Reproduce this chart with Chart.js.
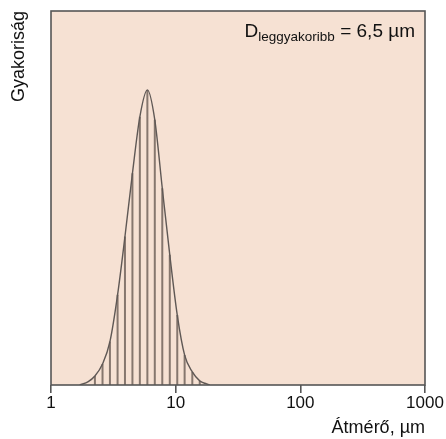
<!DOCTYPE html>
<html lang="hu">
<head>
<meta charset="utf-8">
<title>Részecskeméret-eloszlás</title>
<script src="https://cdn.jsdelivr.net/npm/chart.js@4.4.1/dist/chart.umd.min.js"></script>
<style>
  html, body { margin: 0; padding: 0; background: #ffffff; }
  #wrap { width: 446px; height: 439px; position: relative; }
</style>
</head>
<body>
<div id="wrap"><canvas id="chart" width="446" height="439"></canvas></div>
<script>
// Size classes (µm) and their relative frequencies
const diameters   = [2.25, 2.59, 2.97, 3.42, 3.92, 4.50, 5.16, 5.93, 6.80, 7.81, 8.97, 10.3, 11.8, 13.6, 15.6];
const frequencies = [2.4, 5.6, 11.6, 24.1, 39.7, 56.6, 71.7, 78.9, 70.9, 52.6, 34.8, 18.7, 8.0, 3.5, 1.1];

// Where the envelope curve fades into the baseline on each side
const leftTailDiameters   = [1.70, 1.99];
const leftTailFrequencies = [0, 0.9];
const rightTailDiameters   = [17.7, 18.8];
const rightTailFrequencies = [0.3, 0];

// Axis ticks and texts
const tickValues = [1, 10, 100, 1000];
const xTitle = 'Átmérő, µm';
const yTitle = 'Gyakoriság';
const modeLabel = { main: 'D', sub: 'leggyakoribb', rest: ' = 6,5 µm' };

const FONT = '"Liberation Sans", Arial, Helvetica, sans-serif';
const FRAME = '#565656';
const BG = '#f6e1d3';

// envelope curve points
const curvePoints = [];
leftTailDiameters.forEach((d, i) => curvePoints.push({ x: d, y: leftTailFrequencies[i] }));
diameters.forEach((d, i) => curvePoints.push({ x: d, y: frequencies[i] }));
rightTailDiameters.forEach((d, i) => curvePoints.push({ x: d, y: rightTailFrequencies[i] }));

// one vertical stem per size class, separated by gaps
const stemPoints = [];
diameters.forEach((d, i) => {
  stemPoints.push({ x: d, y: 0 });
  stemPoints.push({ x: d, y: frequencies[i] });
  stemPoints.push({ x: d, y: null });
});

const plotFrame = {
  id: 'plotFrame',
  beforeDatasetsDraw(chart) {
    const { ctx, chartArea: a } = chart;
    ctx.save();
    ctx.fillStyle = BG;
    ctx.fillRect(a.left, a.top, a.right - a.left, a.bottom - a.top);
    ctx.restore();
  },
  afterDatasetsDraw(chart) {
    const { ctx, chartArea: a } = chart;
    ctx.save();
    ctx.strokeStyle = FRAME;
    ctx.lineWidth = 1.6;
    ctx.strokeRect(a.left, a.top, a.right - a.left, a.bottom - a.top);

    // label of the most frequent diameter, with subscript
    const mainFont = '19px ' + FONT;
    const subFont = '13.5px ' + FONT;
    ctx.fillStyle = '#111111';
    ctx.textBaseline = 'alphabetic';
    ctx.font = mainFont;
    const wMain = ctx.measureText(modeLabel.main).width;
    const wRest = ctx.measureText(modeLabel.rest).width;
    ctx.font = subFont;
    const wSub = ctx.measureText(modeLabel.sub).width;
    const xEnd = a.right - 10;
    let x = xEnd - (wMain + wSub + wRest);
    const base = a.top + 26;
    ctx.font = mainFont;
    ctx.fillText(modeLabel.main, x, base);
    x += wMain;
    ctx.font = subFont;
    ctx.fillText(modeLabel.sub, x, base + 4);
    x += wSub;
    ctx.font = mainFont;
    ctx.fillText(modeLabel.rest, x, base);
    ctx.restore();
  }
};

new Chart(document.getElementById('chart'), {
  type: 'line',
  data: {
    datasets: [
      {
        label: 'stems',
        data: stemPoints,
        borderColor: '#86776e',
        borderWidth: 2,
        pointRadius: 0,
        spanGaps: false,
        tension: 0,
        order: 2
      },
      {
        label: 'curve',
        data: curvePoints,
        borderColor: '#5f5855',
        borderWidth: 1.4,
        pointRadius: 0,
        cubicInterpolationMode: 'monotone',
        order: 1
      }
    ]
  },
  options: {
    responsive: false,
    animation: false,
    events: [],
    layout: { padding: { top: 11, right: 21, bottom: 0, left: 0 } },
    plugins: { legend: { display: false }, tooltip: { enabled: false } },
    scales: {
      x: {
        type: 'logarithmic',
        min: 1,
        max: 1000,
        afterBuildTicks(scale) {
          scale.ticks = tickValues.map(v => ({ value: v }));
        },
        afterFit(scale) { scale.height = 54; },
        border: { display: false },
        grid: {
          drawOnChartArea: false,
          drawTicks: true,
          tickLength: 8,
          color: FRAME,
          lineWidth: 1.6
        },
        ticks: {
          autoSkip: false,
          maxRotation: 0,
          padding: 0,
          color: '#111111',
          font: { family: FONT, size: 17 },
          callback: v => String(v)
        },
        title: {
          display: true,
          text: xTitle,
          align: 'end',
          color: '#111111',
          font: { family: FONT, size: 18 },
          padding: { top: 0, bottom: 0 }
        }
      },
      y: {
        min: 0,
        max: 100,
        afterFit(scale) { scale.width = 51; },
        border: { display: false },
        grid: { display: false },
        ticks: { display: false },
        title: {
          display: true,
          text: yTitle,
          align: 'end',
          color: '#111111',
          font: { family: FONT, size: 18 },
          padding: { top: 8, bottom: 0 }
        }
      }
    }
  },
  plugins: [plotFrame]
});
</script>
</body>
</html>
